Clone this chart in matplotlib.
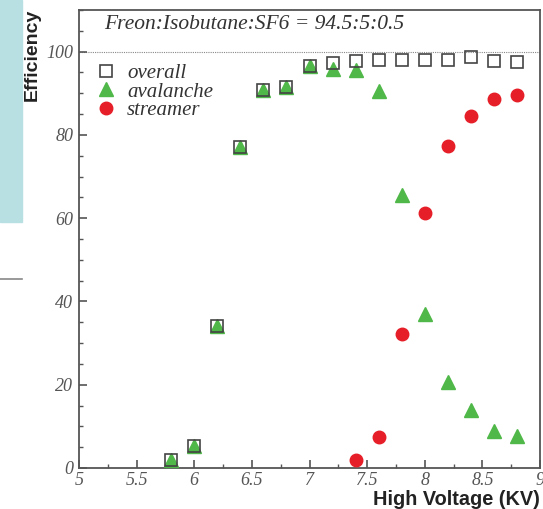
import numpy as np
import matplotlib
matplotlib.use('Agg')
import matplotlib.pyplot as plt
from matplotlib.ticker import MultipleLocator, FuncFormatter
from matplotlib.lines import Line2D
from matplotlib.patches import Rectangle

# data
hv_overall = [5.8, 6.0, 6.2, 6.4, 6.6, 6.8, 7.0, 7.2, 7.4, 7.6, 7.8, 8.0, 8.2, 8.4, 8.6, 8.8]
eff_overall = [1.9, 5.3, 34.0, 77.0, 90.8, 91.6, 96.6, 97.2, 97.8, 98.0, 98.0, 98.0, 98.0, 98.8, 97.8, 97.4]

hv_aval = [5.8, 6.0, 6.2, 6.4, 6.6, 6.8, 7.0, 7.2, 7.4, 7.6, 7.8, 8.0, 8.2, 8.4, 8.6, 8.8]
eff_aval = [1.9, 5.3, 34.0, 77.0, 90.8, 91.6, 96.5, 95.8, 95.6, 90.6, 65.5, 37.0, 20.6, 14.0, 9.0, 7.7]

hv_streamer = [7.4, 7.6, 7.8, 8.0, 8.2, 8.4, 8.6, 8.8]
eff_streamer = [1.9, 7.4, 32.3, 61.3, 77.3, 84.6, 88.6, 89.7]

labels = ['overall', 'avalanche', 'streamer']
title_txt = 'Freon:Isobutane:SF6 = 94.5:5:0.5'

green = '#4fb848'
red = '#e61e28'
gray = '#555555'
serif = 'Liberation Serif'

fig = plt.figure(figsize=(5.43, 5.09), dpi=100)

# leftover pieces of the slide around the plot
fig.patches.append(Rectangle((0, 1 - 222 / 509), 22 / 543, 222 / 509,
                             transform=fig.transFigure, color='#b8dfe2', zorder=0))
fig.lines.append(Line2D([0, 22 / 543], [1 - 279 / 509] * 2, transform=fig.transFigure,
                        color='#888888', lw=1.2))

ax = fig.add_axes([79 / 543, 1 - 468 / 509, 461 / 543, 458 / 509])

ax.axhline(100, ls=(0, (1, 1)), color='#888888', lw=0.8, zorder=1)

ax.plot(hv_aval, eff_aval, ls='none', marker='^', ms=9.5, color=green, mec=green, zorder=3)
ax.plot(hv_overall, eff_overall, ls='none', marker='s', ms=9, mfc='none', mec='#444444', mew=1.2, zorder=4)
ax.plot(hv_streamer, eff_streamer, ls='none', marker='o', ms=9, color=red, mec=red, zorder=3)

ax.set_xlim(5, 9)
ax.set_ylim(0, 110)
ax.set_xticks(np.arange(5, 9.01, 0.5))
ax.set_yticks(np.arange(0, 101, 20))
ax.xaxis.set_minor_locator(MultipleLocator(0.25))
ax.yaxis.set_minor_locator(MultipleLocator(5))
ax.xaxis.set_major_formatter(FuncFormatter(lambda v, p: '%g' % v))

ax.tick_params(which='both', direction='in', color=gray, top=False, right=False)
ax.tick_params(which='major', length=6, width=1.2, labelsize=13, labelcolor=gray, pad=4)
ax.tick_params(axis='x', which='major', pad=3)
ax.tick_params(which='minor', length=3, width=1.0)
for lab in ax.get_xticklabels() + ax.get_yticklabels():
    lab.set_family(serif)
    lab.set_style('italic')

for s in ax.spines.values():
    s.set_color(gray)
    s.set_linewidth(1.3)

ax.text(0.055, 0.99, title_txt, transform=ax.transAxes, ha='left', va='top',
        family=serif, style='italic', fontsize=15.5, color='#333333')

handles = [
    Line2D([], [], ls='none', marker='s', ms=9, mfc='none', mec='#444444', mew=1.2),
    Line2D([], [], ls='none', marker='^', ms=9.5, color=green),
    Line2D([], [], ls='none', marker='o', ms=9, color=red),
]
leg = ax.legend(handles, labels, loc='upper left', bbox_to_anchor=(0.0, 0.915), frameon=False,
                prop={'family': serif, 'style': 'italic', 'size': 15},
                handletextpad=0.4, labelspacing=-0.05, borderaxespad=0.3, handlelength=1.2)
for t in leg.get_texts():
    t.set_color('#333333')

fig.text(32 / 543, 1 - 55 / 509, 'Efficiency', rotation=90, ha='center', va='center',
         family='Liberation Sans', weight='bold', fontsize=14, color='#222222')
fig.text(540 / 543, 1 - 505 / 509, 'High Voltage (KV)', ha='right', va='baseline',
         family='Liberation Sans', weight='bold', fontsize=14.3, color='#222222')

fig.savefig('out.png', dpi=100)
